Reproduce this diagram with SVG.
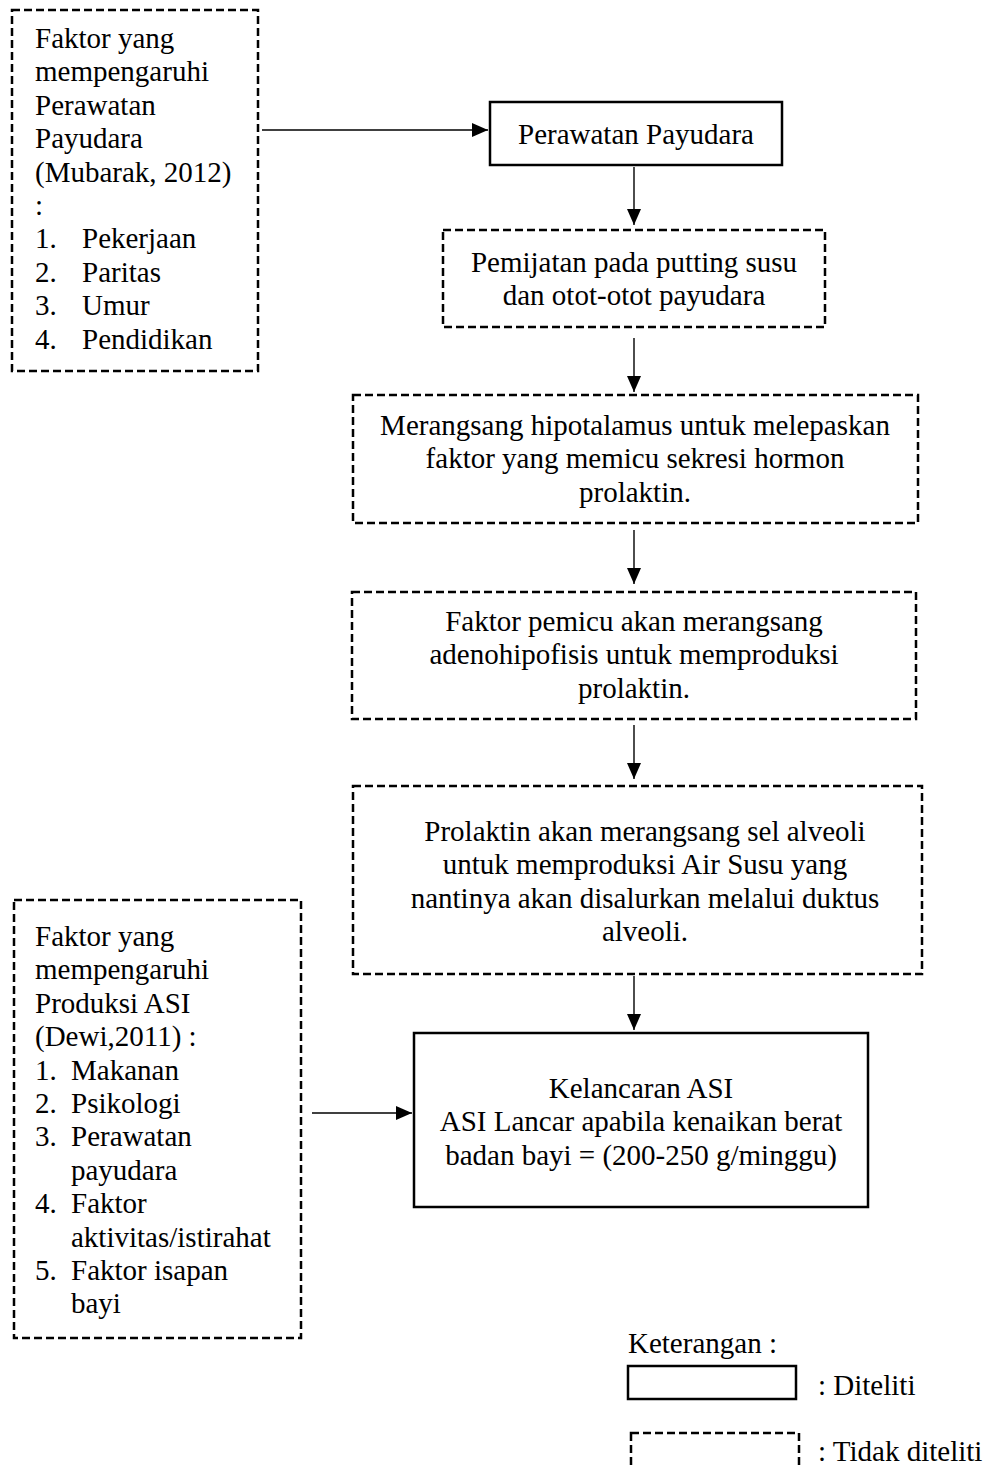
<svg xmlns="http://www.w3.org/2000/svg" width="995" height="1465" viewBox="0 0 995 1465">
<style>
text{font-family:"Liberation Serif","Times New Roman",serif;font-size:29px;fill:#000}
.c{text-anchor:middle}
.solid{fill:#fff;stroke:#000;stroke-width:2.5}
.dash{fill:#fff;stroke:#000;stroke-width:2.5;stroke-dasharray:8 4}
.conn{stroke:#000;stroke-width:1.4;fill:none}
</style>
<defs>
<marker id="ah" markerUnits="userSpaceOnUse" markerWidth="17" markerHeight="16" refX="16" refY="7" orient="auto">
<path d="M0,0 L16,7 L0,14 z" fill="#000"/>
</marker>
</defs>
<g id="connectors">
<line class="conn" x1="262" y1="130" x2="488" y2="130" marker-end="url(#ah)"/>
<line class="conn" x1="634" y1="167" x2="634" y2="225" marker-end="url(#ah)"/>
<line class="conn" x1="634" y1="338" x2="634" y2="392" marker-end="url(#ah)"/>
<line class="conn" x1="634" y1="530" x2="634" y2="584" marker-end="url(#ah)"/>
<line class="conn" x1="634" y1="725" x2="634" y2="779" marker-end="url(#ah)"/>
<line class="conn" x1="634" y1="976" x2="634" y2="1030" marker-end="url(#ah)"/>
<line class="conn" x1="312" y1="1113" x2="412" y2="1113" marker-end="url(#ah)"/>
</g>
<g id="n1">
<rect class="dash" x="12" y="10" width="246" height="361"/>
<text x="35" y="48">Faktor yang</text>
<text x="35" y="81">mempengaruhi</text>
<text x="35" y="115">Perawatan</text>
<text x="35" y="148">Payudara</text>
<text x="35" y="182">(Mubarak, 2012)</text>
<text x="35" y="215">:</text>
<text x="35" y="248">1.</text><text x="82" y="248">Pekerjaan</text>
<text x="35" y="282">2.</text><text x="82" y="282">Paritas</text>
<text x="35" y="315">3.</text><text x="82" y="315">Umur</text>
<text x="35" y="349">4.</text><text x="82" y="349">Pendidikan</text>
</g>
<g id="n2">
<rect class="solid" x="490" y="102" width="292" height="63"/>
<text class="c" x="636" y="144">Perawatan Payudara</text>
</g>
<g id="n3">
<rect class="dash" x="443" y="230" width="382" height="97"/>
<text class="c" x="634" y="272">Pemijatan pada putting susu</text>
<text class="c" x="634" y="305">dan otot-otot payudara</text>
</g>
<g id="n4">
<rect class="dash" x="353" y="395" width="565" height="128"/>
<text class="c" x="635" y="435">Merangsang hipotalamus untuk melepaskan</text>
<text class="c" x="635" y="468">faktor yang memicu sekresi hormon</text>
<text class="c" x="635" y="502">prolaktin.</text>
</g>
<g id="n5">
<rect class="dash" x="352" y="592" width="564" height="127"/>
<text class="c" x="634" y="631">Faktor pemicu akan merangsang</text>
<text class="c" x="634" y="664">adenohipofisis untuk memproduksi</text>
<text class="c" x="634" y="698">prolaktin.</text>
</g>
<g id="n6">
<rect class="dash" x="353" y="786" width="569" height="188"/>
<text class="c" x="645" y="841">Prolaktin akan merangsang sel alveoli</text>
<text class="c" x="645" y="874">untuk memproduksi Air Susu yang</text>
<text class="c" x="645" y="908">nantinya akan disalurkan melalui duktus</text>
<text class="c" x="645" y="941">alveoli.</text>
</g>
<g id="n7">
<rect class="solid" x="414" y="1033" width="454" height="174"/>
<text class="c" x="641" y="1098">Kelancaran ASI</text>
<text class="c" x="641" y="1131">ASI Lancar apabila kenaikan berat</text>
<text class="c" x="641" y="1165">badan bayi = (200-250 g/minggu)</text>
</g>
<g id="n8">
<rect class="dash" x="14" y="900" width="287" height="438"/>
<text x="35" y="946">Faktor yang</text>
<text x="35" y="979">mempengaruhi</text>
<text x="35" y="1013">Produksi ASI</text>
<text x="35" y="1046">(Dewi,2011) :</text>
<text x="35" y="1080">1.</text><text x="71" y="1080">Makanan</text>
<text x="35" y="1113">2.</text><text x="71" y="1113">Psikologi</text>
<text x="35" y="1146">3.</text><text x="71" y="1146">Perawatan</text>
<text x="71" y="1180">payudara</text>
<text x="35" y="1213">4.</text><text x="71" y="1213">Faktor</text>
<text x="71" y="1247">aktivitas/istirahat</text>
<text x="35" y="1280">5.</text><text x="71" y="1280">Faktor isapan</text>
<text x="71" y="1313">bayi</text>
</g>
<g id="legend">
<text x="628" y="1353">Keterangan :</text>
<rect class="solid" x="628" y="1366" width="168" height="33"/>
<text x="818" y="1395">: Diteliti</text>
<rect class="dash" x="631" y="1433" width="168" height="40"/>
<text x="818" y="1461">: Tidak diteliti</text>
</g>
</svg>
